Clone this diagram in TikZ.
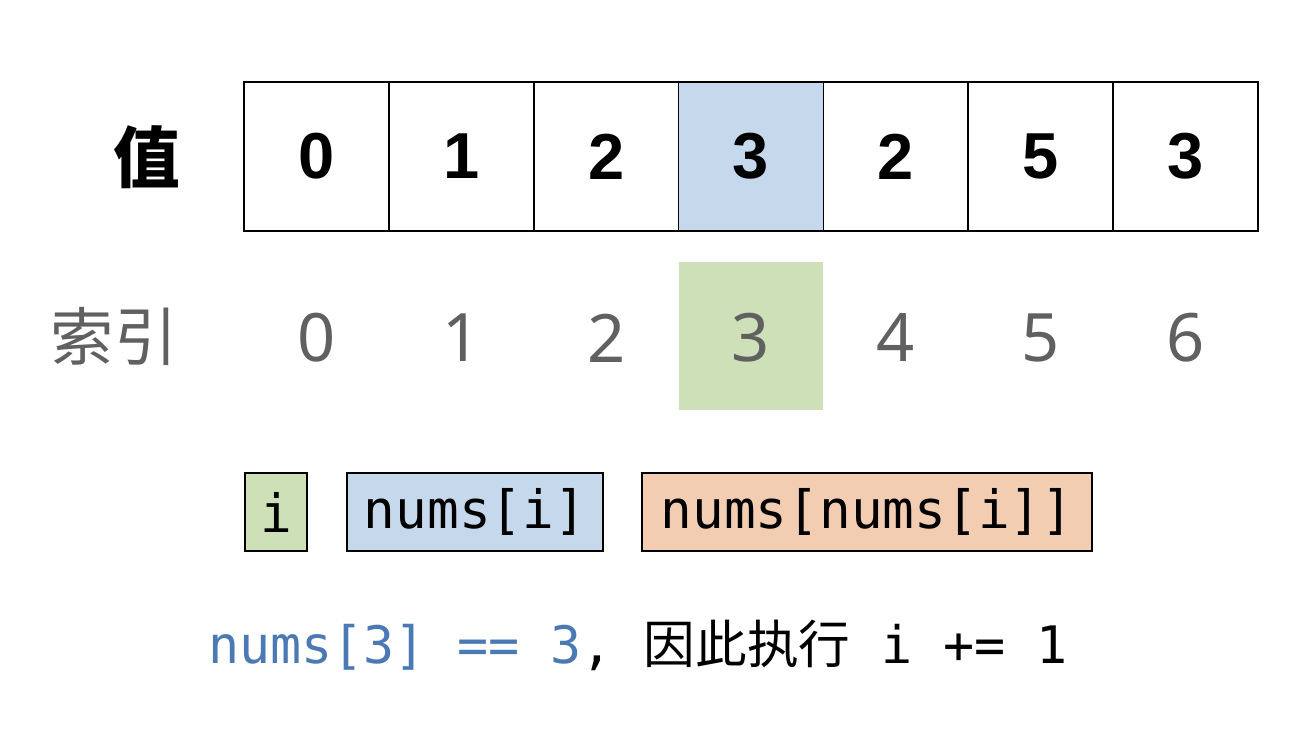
\documentclass[tikz,border=0pt]{standalone}
\usepackage{fontspec}
\setmainfont{Liberation Sans}
\setmonofont{DejaVu Sans Mono}
\newfontfamily\cjk{Noto Sans CJK SC}
\newfontfamily\idxfont{Noto Sans}
\usetikzlibrary{positioning}

\definecolor{valblue}{HTML}{C5D8EC}
\definecolor{idxgreen}{HTML}{CDE0B8}
\definecolor{nnorange}{HTML}{F2CDB1}
\definecolor{codeblue}{HTML}{4A79B4}
\definecolor{idxgray}{HTML}{606060}

\tikzset{
  cell/.style={draw, line width=1.1pt, minimum width=2.9cm, minimum height=2.98cm,
    inner sep=0pt, font=\fontsize{37}{37}\selectfont\bfseries},
  idx/.style={text=idxgray, font=\idxfont\fontsize{38}{38}\selectfont},
  legendbox/.style={draw, line width=0.8pt, minimum height=1.56cm, inner sep=0pt,
    font=\ttfamily\fontsize{30}{30}\selectfont}
}

\begin{document}
\begin{tikzpicture}[x=0.02cm,y=-0.02cm]
\useasboundingbox (0,0) rectangle (1314,744);
% values and indices
\node[fill=idxgreen, minimum width=2.88cm, minimum height=2.96cm] (hl) at (751,336) {};
\foreach \v [count=\i from 0] in {0,1,2,3,2,5,3} {
  \node[cell] (c\i) at ({316.4+144.86*\i},156.5) {\v};
  \node[idx] (n\i) at ({316.4+144.86*\i},338) {\i};
}
\node[cell, fill=valblue] at (c3) {3};
\node[font=\cjk\fontsize{38}{38}\selectfont\bfseries] (vallabel) at (147,157) {值};
\node[text=idxgray, font=\cjk\fontsize{36}{36}\selectfont] (idxlabel) at (114,336) {索引};
% legend
\node[legendbox, fill=idxgreen, minimum width=1.24cm] (li) at (276,512) {i};
\node[legendbox, fill=valblue, minimum width=5.12cm] (lnum) at (475,512) {nums[i]};
\node[legendbox, fill=nnorange, minimum width=9cm] (lnn) at (867,512) {nums[nums[i]]};
% explanation
\node[anchor=west, inner sep=0pt, font=\ttfamily\fontsize{29.4}{29.4}\selectfont] (note) at (208,645)
  {{\color{codeblue}nums[3] == 3}, {\cjk 因此执行} i += 1};
\end{tikzpicture}
\end{document}
